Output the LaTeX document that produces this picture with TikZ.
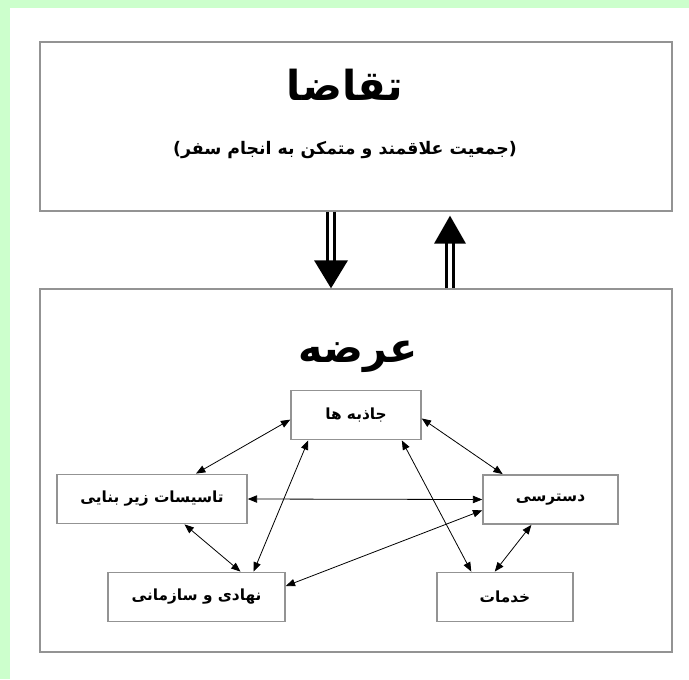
\documentclass[tikz,border=0pt]{standalone}
\usepackage{fontspec}
\usetikzlibrary{arrows.meta,calc}
\newfontfamily\farsi[Script=Arabic]{DejaVu Sans}
\TeXXeTstate=1
\definecolor{bggreen}{HTML}{CCFFCC}
\definecolor{boxgray}{HTML}{939393}
\newcommand{\fa}[1]{\beginR #1\endR}

\begin{document}
\begin{tikzpicture}[x=0.75pt,y=-0.75pt,
    panel/.style={draw=boxgray, line width=1.1pt, inner sep=0pt, minimum width=474pt},
    factor/.style={draw=boxgray, line width=1.1pt, inner sep=0pt, minimum height=37pt,
        font=\farsi\bfseries\fontsize{11.5}{13}\selectfont},
    heading/.style={font=\farsi\bfseries\fontsize{31}{36}\selectfont},
    link/.style={{Triangle[length=7pt,width=5.5pt]}-{Triangle[length=7pt,width=5.5pt]}, line width=0.6pt},
    shaft/.style={draw=black, line width=2.25pt, double=white, double distance=2.6pt}]
    % background and margins
    \fill[white] (0,0) rectangle (689,679);
    \fill[bggreen] (0,0) rectangle (689,8);
    \fill[bggreen] (0,0) rectangle (10,679);
    \useasboundingbox (0,0) rectangle (689,679);

    % demand and supply panels
    \node[panel, minimum height=126.75pt] (demand) at (356,126.5) {};
    \node[panel, minimum height=272.25pt] (supply) at (356,470.5) {};
    \node[heading] (demandtitle) at (345,85) {\fa{تقاضا}};
    \node[font=\farsi\bfseries\fontsize{13}{15}\selectfont] (demandnote) at (345,150)
        {\fa{(جمعیت علاقمند و متمکن به انجام سفر)}};
    \node[heading] (supplytitle) at (358,357) {\fa{عرضه}};

    % big arrows between the panels
    \coordinate (dn) at (331,0);
    \coordinate (up) at (450,0);
    \draw[shaft] (dn |- demand.south) -- ($(dn |- supply.north)+(0,-27)$);
    \fill ($(dn |- supply.north)+(-17,-28)$) -- ($(dn |- supply.north)+(17,-28)$)
        -- (dn |- supply.north) -- cycle;
    \draw[shaft] (up |- supply.north) -- ($(up |- demand.south)+(0,30)$);
    \fill ($(up |- demand.south)+(-16,32)$) -- ($(up |- demand.south)+(16,32)$)
        -- ($(up |- demand.south)+(0,4)$) -- cycle;

    % factors of supply
    \node[factor, minimum width=97.5pt] (attr) at (356,415) {\fa{جاذبه ها}};
    \node[factor, minimum width=142.5pt] (infra) at (152,499) {\fa{تاسیسات زیر بنایی}};
    \node[factor, minimum width=101.25pt] (access) at (550.5,499.5) {\fa{دسترسی}};
    \node[factor, minimum width=132.75pt] (inst) at (196.5,597) {\fa{نهادی و سازمانی}};
    \node[factor, minimum width=102pt] (serv) at (505,597) {\fa{خدمات}};

    % links
    \draw[link] (infra.30) -- (attr.184);
    \draw[link] (attr.357) -- (access.152);
    \draw[link] (infra.east) -- (access.west);
    \draw[link] (infra.322) -- (inst.30);
    \draw[link] (attr.208) -- (inst.24);
    \draw[link] (attr.331) -- (serv.143);
    \draw[link] (access.189) -- (inst.7);
    \draw[link] (access.233) -- (serv.112);
\end{tikzpicture}
\end{document}
